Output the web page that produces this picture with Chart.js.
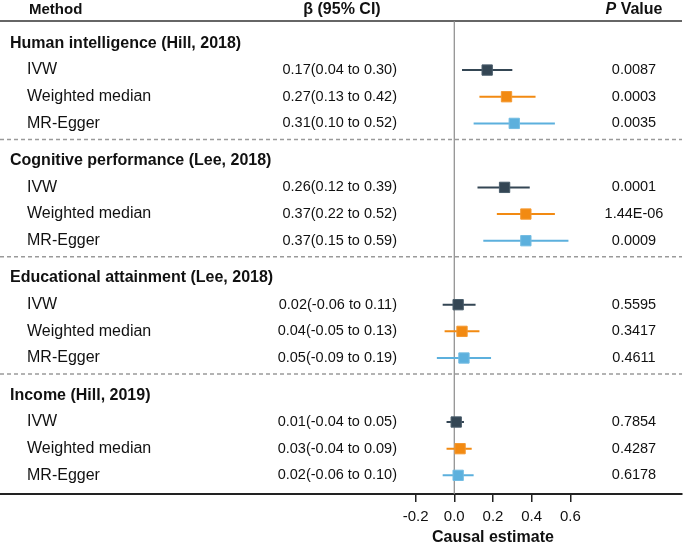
<!DOCTYPE html>
<html>
<head>
<meta charset="utf-8">
<script src="https://cdn.jsdelivr.net/npm/chart.js@4"></script>
<style>
  body { margin: 0; background: #fff; }
</style>
</head>
<body>
<canvas id="forestChart" width="685" height="542"></canvas>
<script>
// data
const groups = ['Human intelligence (Hill, 2018)', 'Cognitive performance (Lee, 2018)',
                'Educational attainment (Lee, 2018)', 'Income (Hill, 2019)'];
const methods = ['IVW', 'Weighted median', 'MR-Egger'];

const ivwBeta = [0.17, 0.26, 0.02, 0.01];
const ivwLow  = [0.04, 0.12, -0.06, -0.04];
const ivwHigh = [0.30, 0.39, 0.11, 0.05];
const ivwP    = ['0.0087', '0.0001', '0.5595', '0.7854'];

const wmBeta = [0.27, 0.37, 0.04, 0.03];
const wmLow  = [0.13, 0.22, -0.05, -0.04];
const wmHigh = [0.42, 0.52, 0.13, 0.09];
const wmP    = ['0.0003', '1.44E-06', '0.3417', '0.4287'];

const eggerBeta = [0.31, 0.37, 0.05, 0.02];
const eggerLow  = [0.10, 0.15, -0.09, -0.06];
const eggerHigh = [0.52, 0.59, 0.19, 0.10];
const eggerP    = ['0.0035', '0.0009', '0.4611', '0.6178'];

const xTicks = [-0.2, 0, 0.2, 0.4, 0.6];

const series = [
    { beta: ivwBeta, low: ivwLow, high: ivwHigh, p: ivwP, color: '#344654', edge: '#4a5d6b' },
    { beta: wmBeta, low: wmLow, high: wmHigh, p: wmP, color: '#f28a12', edge: '#f59a33' },
    { beta: eggerBeta, low: eggerLow, high: eggerHigh, p: eggerP, color: '#5cb0dd', edge: '#74bde3' }
];

const FONT = '"Liberation Sans", Arial, Helvetica, sans-serif';
const GROUP_STEP = 4.4;

function groupRow(g) { return g * GROUP_STEP; }
function methodRow(g, m) { return g * GROUP_STEP + m + 1; }

// datasets: squares first (drawn on top), whiskers after
const squareSets = series.map((s, m) => ({
    type: 'scatter',
    data: s.beta.map((b, g) => ({ x: b, y: methodRow(g, m) })),
    pointStyle: 'rect',
    pointRadius: 7.3,
    pointHoverRadius: 7.3,
    backgroundColor: s.color,
    borderColor: s.edge,
    borderWidth: 1,
    order: 0
}));

const whiskerSets = series.map((s, m) => {
    let pts = [];
    s.low.forEach((lo, g) => {
        pts.push({ x: lo, y: methodRow(g, m) });
        pts.push({ x: s.high[g], y: methodRow(g, m) });
        pts.push({ x: null, y: null });
    });
    return {
        type: 'line',
        data: pts,
        borderColor: s.color,
        borderWidth: 2,
        pointRadius: 0,
        spanGaps: false,
        order: 1
    };
});

// lines, zero reference and all the text columns
const tablePlugin = {
    id: 'tablePlugin',
    beforeDatasetsDraw(chart) {
        const ctx = chart.ctx;
        const area = chart.chartArea;
        const xs = chart.scales.x;
        const ys = chart.scales.y;
        ctx.save();

        // top rule under the header
        ctx.strokeStyle = '#333';
        ctx.lineWidth = 1.5;
        ctx.beginPath();
        ctx.moveTo(area.left, area.top);
        ctx.lineTo(area.right, area.top);
        ctx.stroke();

        // dashed separators between groups
        ctx.strokeStyle = '#9a9a9a';
        ctx.lineWidth = 1.5;
        ctx.setLineDash([4, 3]);
        for (let g = 1; g < groups.length; g++) {
            const y = ys.getPixelForValue(groupRow(g) - 0.8);
            ctx.beginPath();
            ctx.moveTo(area.left, y);
            ctx.lineTo(area.right, y);
            ctx.stroke();
        }
        ctx.setLineDash([]);

        // zero line
        const x0 = xs.getPixelForValue(0);
        ctx.strokeStyle = '#8a8a8a';
        ctx.lineWidth = 1.2;
        ctx.beginPath();
        ctx.moveTo(x0, area.top);
        ctx.lineTo(x0, area.bottom);
        ctx.stroke();
        ctx.restore();
    },
    afterDraw(chart) {
        const ctx = chart.ctx;
        const xs = chart.scales.x;
        const ys = chart.scales.y;
        ctx.save();
        ctx.fillStyle = '#111';
        ctx.textBaseline = 'middle';

        // header
        ctx.font = 'bold 15px ' + FONT;
        ctx.textAlign = 'left';
        ctx.fillText('Method', 29, 10);
        ctx.font = 'bold 16px ' + FONT;
        ctx.textAlign = 'center';
        ctx.fillText('β (95% CI)', 342, 10);
        ctx.font = 'italic bold 16px ' + FONT;
        const pw = ctx.measureText('P').width;
        ctx.font = 'bold 16px ' + FONT;
        const vw = ctx.measureText(' Value').width;
        const startP = 634 - (pw + vw) / 2;
        ctx.textAlign = 'left';
        ctx.font = 'italic bold 16px ' + FONT;
        ctx.fillText('P', startP, 10);
        ctx.font = 'bold 16px ' + FONT;
        ctx.fillText(' Value', startP + pw, 10);

        groups.forEach((name, g) => {
            ctx.font = 'bold 16px ' + FONT;
            ctx.textAlign = 'left';
            ctx.fillText(name, 10, ys.getPixelForValue(groupRow(g)));

            methods.forEach((mName, m) => {
                const s = series[m];
                const y = ys.getPixelForValue(methodRow(g, m));
                ctx.font = '16px ' + FONT;
                ctx.textAlign = 'left';
                ctx.fillText(mName, 27, y);
                ctx.font = '14.5px ' + FONT;
                ctx.textAlign = 'right';
                ctx.fillText(s.beta[g].toFixed(2) + '(' + s.low[g].toFixed(2) + ' to ' + s.high[g].toFixed(2) + ')', 397, y);
                ctx.textAlign = 'center';
                ctx.fillText(s.p[g], 634, y);
            });
        });

        // axis title centred under the tick range
        ctx.font = 'bold 16px ' + FONT;
        ctx.textAlign = 'center';
        ctx.fillText('Causal estimate', xs.getPixelForValue((xTicks[0] + xTicks[xTicks.length - 1]) / 2), 538);
        ctx.restore();
    }
};

let ctx = document.getElementById('forestChart').getContext('2d');
let forestChart = new Chart(ctx, {
    data: { datasets: squareSets.concat(whiskerSets) },
    options: {
        responsive: false,
        animation: false,
        layout: { autoPadding: false, padding: { top: 21, left: 0, right: 3, bottom: 0 } },
        plugins: { legend: { display: false }, tooltip: { enabled: false } },
        scales: {
            x: {
                type: 'linear',
                position: 'bottom',
                min: -2.348,
                max: 1.177,
                afterBuildTicks: (scale) => { scale.ticks = xTicks.map(v => ({ value: v })); },
                afterFit: (scale) => { scale.height = 48; },
                ticks: {
                    autoSkip: false,
                    maxRotation: 0,
                    padding: 6,
                    color: '#111',
                    font: { family: FONT, size: 15 },
                    callback: (v) => Number(v).toFixed(1)
                },
                grid: { drawOnChartArea: false, drawTicks: true, tickLength: 8, color: '#222', lineWidth: 1.5 },
                border: { display: true, color: '#222', width: 2 }
            },
            y: {
                type: 'linear',
                display: false,
                reverse: true,
                min: -0.84,
                max: 16.9
            }
        }
    },
    plugins: [tablePlugin]
});
</script>
</body>
</html>
